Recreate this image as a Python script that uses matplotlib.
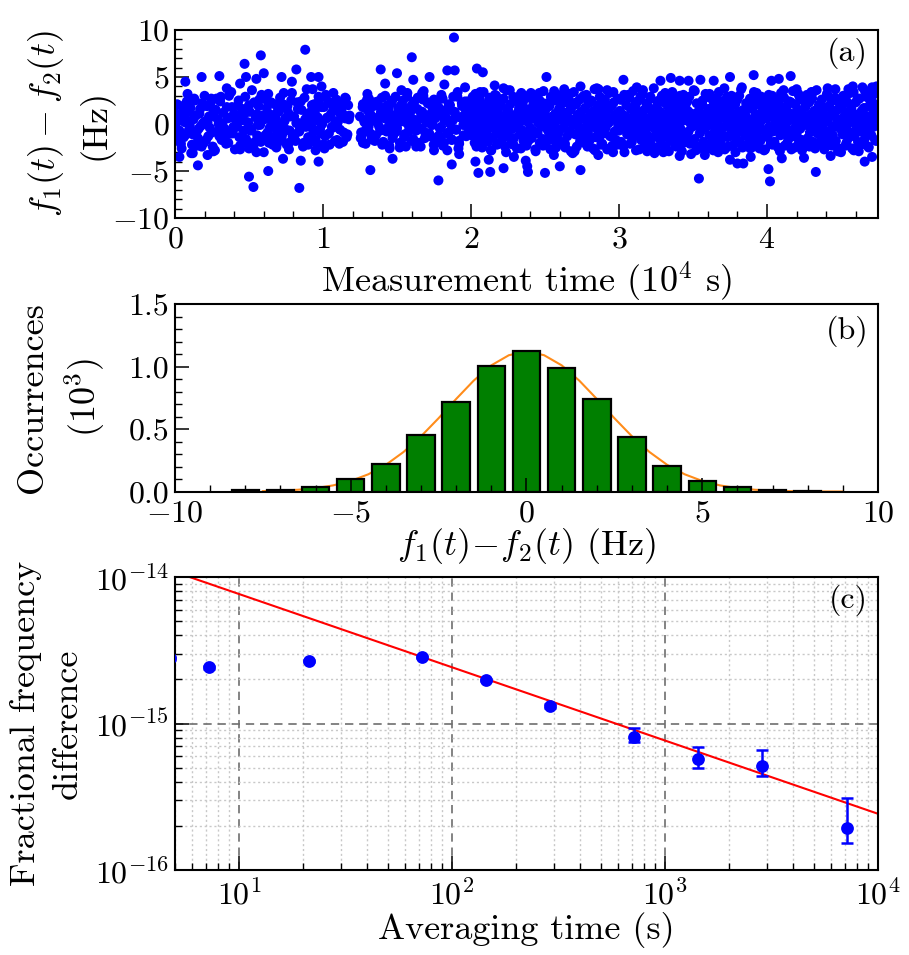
import numpy as np
import matplotlib
matplotlib.use('Agg')
import matplotlib.pyplot as plt
from matplotlib.ticker import MultipleLocator, LogLocator, NullFormatter, FormatStrFormatter

plt.rcParams['font.family'] = 'serif'
plt.rcParams['font.serif'] = ['cmr10']
plt.rcParams['mathtext.fontset'] = 'cm'
plt.rcParams['axes.formatter.use_mathtext'] = True

# ---- panel (a): f1(t) - f2(t) versus measurement time (1e4 s) ----
t_a = [0.00, 0.01, 0.02, 0.04, 0.05, 0.06, 0.07, 0.08, 0.10, 0.11,
       0.12, 0.13, 0.14, 0.16, 0.17, 0.18, 0.19, 0.20, 0.21, 0.23,
       0.24, 0.25, 0.26, 0.27, 0.29, 0.30, 0.31, 0.32, 0.33, 0.35,
       0.36, 0.37, 0.38, 0.39, 0.40, 0.42, 0.43, 0.44, 0.45, 0.46,
       0.48, 0.49, 0.50, 0.51, 0.52, 0.53, 0.55, 0.56, 0.57, 0.58,
       0.59, 0.61, 0.62, 0.63, 0.64, 0.65, 0.66, 0.68, 0.69, 0.70,
       0.71, 0.72, 0.74, 0.75, 0.76, 0.77, 0.78, 0.79, 0.81, 0.82,
       0.83, 0.84, 0.85, 0.87, 0.88, 0.89, 0.90, 0.91, 0.92, 0.94,
       0.95, 0.96, 0.97, 0.98, 0.99, 1.01, 1.02, 1.03, 1.04, 1.05,
       1.06, 1.07, 1.08, 1.09, 1.10, 1.11, 1.12, 1.13, 1.14, 1.15,
       1.16, 1.17, 1.18, 0.03, 0.09, 0.15, 0.22, 0.28, 0.34, 0.41,
       0.47, 0.54, 0.60, 0.67, 0.73, 0.80, 0.86, 0.93, 1.00, 0.015]
df_a = [1.2, -0.8, 0.3, -2.1, 1.9, -1.4, 0.6, 2.4, -0.2, -3.1,
        -1.1, 2.7, 0.9, -0.5, 1.6, -2.4, 0.1, 3.0, -1.7, 0.8,
        2.2, -0.9, 1.4, -2.8, 0.5, -1.3, 2.9, 0.0, -0.6, 1.8,
        -2.0, 0.7, 3.4, -1.0, 1.1, -0.3, 2.5, -2.3, 0.4, 1.5,
        -1.6, 0.2, 2.0, -0.7, 3.6, -2.5, 1.0, -0.1, 2.6, -1.9,
        0.9, -1.2, 1.7, 3.2, -0.4, 2.3, -2.2, 0.6, -0.9, 1.3,
        2.8, -1.5, 0.3, -0.6, 1.9, -2.7, 0.8, 3.3, -1.1, 0.1,
        1.6, -0.8, 2.4, -2.0, 0.5, 3.7, -1.4, 1.2, -0.2, 2.1,
        -1.7, 0.4, 2.9, -0.5, 1.8, -2.6, 3.1, 0.7, -1.0, 2.2,
        -0.3, 1.5, -1.8, 2.6, 0.2, -2.1, 1.0, 2.3, -0.9, 0.6,
        -1.4, 2.0, 0.9, -0.7, 1.3, -2.3, 0.2, 2.7, -1.2, 0.5,
        1.1, -1.9, 0.8, -0.3, 2.1, -1.6, 0.0, 1.6, -2.2, -1.3]

t_a2 = [0.005, 0.015, 0.025, 0.035, 0.045, 0.055, 0.065, 0.075, 0.085, 0.095,
        0.105, 0.115, 0.125, 0.135, 0.145, 0.155, 0.165, 0.175, 0.185, 0.195,
        0.205, 0.215, 0.225, 0.235, 0.245, 0.255, 0.265, 0.275, 0.285, 0.295,
        0.305, 0.315, 0.325, 0.335, 0.345, 0.355, 0.365, 0.375, 0.385, 0.395,
        0.405, 0.415, 0.425, 0.435, 0.445, 0.455, 0.465, 0.475, 0.485, 0.495,
        0.505, 0.515, 0.525, 0.535, 0.545, 0.555, 0.565, 0.575, 0.585, 0.595,
        0.605, 0.615, 0.625, 0.635, 0.645, 0.655, 0.665, 0.675, 0.685, 0.695,
        0.705, 0.715, 0.725, 0.735, 0.745, 0.755, 0.765, 0.775, 0.785, 0.795,
        0.805, 0.815, 0.825, 0.835, 0.845, 0.855, 0.865, 0.875, 0.885, 0.895,
        0.905, 0.915, 0.925, 0.935, 0.945, 0.955, 0.965, 0.975, 0.985, 0.995,
        1.005, 1.015, 1.025, 1.035, 1.045, 1.055, 1.065, 1.075, 1.085, 1.095,
        1.105, 1.115, 1.125, 1.135, 1.145, 1.155, 1.165, 1.175]
df_a2 = [-0.4, 2.1, -1.8, 0.9, -2.6, 1.4, 0.2, -1.1, 3.2, -0.6,
         1.7, -2.2, 0.5, 2.5, -0.9, -1.5, 1.1, -0.2, 2.2, -2.0,
         0.3, 1.9, -1.3, -0.4, 2.7, -2.4, 0.8, 1.5, -0.8, 0.0,
         2.4, -1.7, 1.2, -0.5, -2.1, 0.6, 3.0, -1.0, 1.8, -0.3,
         -2.7, 0.9, 2.0, -1.4, 0.4, 1.6, -0.7, 2.9, -1.9, 0.1,
         1.3, -0.6, -2.3, 2.3, 0.7, -1.2, 1.9, -0.1, 3.1, -1.6,
         0.5, 2.6, -0.9, -2.0, 1.0, 0.2, -1.4, 2.1, -2.5, 1.4,
         -0.2, 1.7, -1.1, 3.3, 0.6, -2.2, 1.2, -0.7, 2.5, -1.3,
         0.8, -1.8, 2.3, 0.1, -0.5, 1.5, -2.4, 2.8, -0.3, 1.0,
         -1.5, 0.4, 2.0, -0.8, 1.3, -2.0, 0.7, 2.6, -1.0, 0.0,
         1.8, -1.3, 0.6, 2.4, -2.2, 1.1, -0.4, 1.6, 0.3, -1.7,
         2.2, -0.6, 1.4, -1.9, 0.9, 2.7, -1.1, 0.5]

t_b = [1.25, 1.26, 1.27, 1.28, 1.29, 1.30, 1.31, 1.32, 1.33, 1.34,
       1.35, 1.36, 1.37, 1.38, 1.39, 1.40, 1.41, 1.42, 1.43, 1.44,
       1.45, 1.46, 1.47, 1.48, 1.49, 1.50, 1.51, 1.52, 1.53, 1.54,
       1.55, 1.56, 1.57, 1.58, 1.59, 1.60, 1.61, 1.62, 1.63, 1.64,
       1.65, 1.66, 1.67, 1.68, 1.69, 1.70, 1.71, 1.72, 1.73, 1.74,
       1.75, 1.76, 1.77, 1.78, 1.79, 1.80, 1.81, 1.82, 1.83, 1.84,
       1.85, 1.86, 1.87, 1.88, 1.89, 1.90, 1.91, 1.92, 1.93, 1.94,
       1.95, 1.96, 1.97, 1.98, 1.99, 1.255, 1.315, 1.375, 1.435, 1.495,
       1.555, 1.615, 1.675, 1.735, 1.795, 1.855, 1.915, 1.975, 1.285, 1.345]
df_b = [0.8, -1.3, 2.1, 0.2, -0.6, 1.5, 2.7, -1.0, 0.4, 1.9,
        -1.8, 0.6, 2.4, -0.3, 1.2, -2.2, 0.9, 3.0, -0.8, 1.6,
        0.1, 2.2, -1.5, 0.7, 2.9, -0.4, 1.4, -2.0, 0.3, 2.5,
        -1.1, 1.0, 3.3, -0.2, 0.6, 2.0, -1.6, 1.7, -0.7, 2.8,
        0.5, -2.4, 1.3, 3.5, -0.9, 0.2, 2.3, -1.3, 1.1, -0.1,
        2.6, -1.9, 0.9, 1.8, -0.5, 3.1, -2.3, 0.4, 1.5, -1.0,
        2.1, 0.0, -1.7, 2.9, 1.2, -0.6, 3.4, -2.1, 0.7, 1.9,
        -1.2, 2.4, 0.3, -0.4, 1.6, -1.5, 1.1, 0.5, 2.0, -0.8,
        1.7, -0.3, 2.6, 0.8, -1.4, 0.2, -2.6, 1.3, 2.2, -1.7]

t_b2 = [1.258, 1.268, 1.278, 1.288, 1.298, 1.308, 1.318, 1.328, 1.338, 1.348,
        1.358, 1.368, 1.378, 1.388, 1.398, 1.408, 1.418, 1.428, 1.438, 1.448,
        1.458, 1.468, 1.478, 1.488, 1.498, 1.508, 1.518, 1.528, 1.538, 1.548,
        1.558, 1.568, 1.578, 1.588, 1.598, 1.608, 1.618, 1.628, 1.638, 1.648,
        1.658, 1.668, 1.678, 1.688, 1.698, 1.708, 1.718, 1.728, 1.738, 1.748,
        1.758, 1.768, 1.778, 1.788, 1.798, 1.808, 1.818, 1.828, 1.838, 1.848,
        1.858, 1.868, 1.878, 1.888, 1.898, 1.908, 1.918, 1.928, 1.938, 1.948,
        1.958, 1.968, 1.978, 1.988, 1.998]
df_b2 = [-0.9, 1.8, 0.4, -2.1, 2.6, -0.3, 1.1, -1.6, 0.7, 2.3,
         -1.2, 0.1, 1.9, -0.7, 2.8, -1.9, 0.6, 1.4, -0.4, -2.3,
         1.0, 2.5, -1.1, 0.3, -0.6, 1.7, -2.5, 2.0, 0.8, -1.4,
         0.2, 2.9, -0.8, 1.2, -1.8, 0.5, 2.4, -0.2, 1.6, -2.0,
         1.3, -0.5, 3.0, -1.5, 0.9, 2.2, -1.0, 0.0, 1.8, -2.2,
         0.6, 2.5, -1.3, 1.1, -0.3, 2.7, -2.0, 0.8, 1.5, -0.9,
         2.0, -1.6, 0.4, 1.3, -0.6, 2.9, -1.8, 0.7, 2.2, -0.1,
         1.0, -1.3, 2.4, 0.2, -0.7]

t_c = [2.000, 2.005, 2.010, 2.015, 2.020, 2.025, 2.030, 2.035, 2.040, 2.045,
       2.050, 2.055, 2.060, 2.065, 2.070, 2.075, 2.080, 2.085, 2.090, 2.095,
       2.100, 2.105, 2.110, 2.115, 2.120, 2.125, 2.130, 2.135, 2.140, 2.145,
       2.150, 2.155, 2.160, 2.165, 2.170, 2.175, 2.180, 2.185, 2.190, 2.195,
       2.200, 2.205, 2.210, 2.215, 2.220, 2.225, 2.230, 2.235, 2.240, 2.245,
       2.250, 2.255, 2.260, 2.265, 2.270, 2.275, 2.280, 2.285, 2.290, 2.295,
       2.300, 2.305, 2.310, 2.315, 2.320, 2.325, 2.330, 2.335, 2.340, 2.345,
       2.350, 2.355, 2.360, 2.365, 2.370, 2.375, 2.380, 2.385, 2.390, 2.395,
       2.400, 2.405, 2.410, 2.415, 2.420, 2.425, 2.430, 2.435, 2.440, 2.445,
       2.450, 2.455, 2.460, 2.465, 2.470, 2.475, 2.480, 2.485, 2.490, 2.495,
       2.500, 2.505, 2.510, 2.515, 2.520, 2.525, 2.530, 2.535, 2.540, 2.545,
       2.550, 2.555, 2.560, 2.565, 2.570, 2.575, 2.580, 2.585, 2.590, 2.595,
       2.600, 2.605, 2.610, 2.615, 2.620, 2.625, 2.630, 2.635, 2.640, 2.645,
       2.650, 2.655, 2.660, 2.665, 2.670, 2.675, 2.680, 2.685, 2.690, 2.695,
       2.700, 2.705, 2.710, 2.715, 2.720, 2.725, 2.730, 2.735, 2.740, 2.745,
       2.750, 2.755, 2.760, 2.765, 2.770, 2.775, 2.780, 2.785, 2.790, 2.795,
       2.800, 2.805, 2.810, 2.815, 2.820, 2.825, 2.830, 2.835, 2.840, 2.845,
       2.850, 2.855, 2.860, 2.865, 2.870, 2.875, 2.880, 2.885, 2.890, 2.895,
       2.900, 2.905, 2.910, 2.915, 2.920, 2.925, 2.930, 2.935, 2.940, 2.945,
       2.950, 2.955, 2.960, 2.965, 2.970, 2.975, 2.980, 2.985, 2.990, 2.995]
df_c = [0.4, -1.2, 2.3, -0.3, 1.1, -2.0, 3.2, 0.7, -0.8, 1.8,
        -1.6, 0.2, 2.6, -0.5, 1.4, -2.5, 0.9, 3.4, -1.1, 0.0,
        2.0, -0.9, 1.2, -1.9, 0.6, 2.8, -0.2, -2.8, 1.6, 0.3,
        -1.4, 2.2, 0.8, -0.6, 3.0, -2.2, 1.3, -0.1, 2.4, -1.0,
        0.5, 1.9, -1.7, 0.1, 2.7, -0.7, -2.4, 1.0, 3.6, -0.4,
        1.5, -1.3, 0.3, 2.1, -2.1, 0.9, -0.5, 2.9, -1.5, 0.6,
        -0.2, 2.5, -2.6, 1.2, 0.0, 1.7, -1.1, 3.1, -0.6, 0.8,
        2.3, -1.8, 0.4, -0.9, 1.6, -2.3, 2.8, 0.2, -1.2, 1.1,
        -0.4, 3.3, -1.5, 0.7, 2.0, -0.8, 1.3, -2.7, 0.5, 2.6,
        -1.0, 0.1, 1.8, -2.0, 2.4, -0.3, 0.9, -1.6, 3.5, 0.3,
        1.4, -2.2, 0.6, 2.2, -0.7, -1.4, 1.9, 0.0, 2.9, -0.9,
        0.8, -1.7, 2.5, -0.2, 1.1, -2.5, 3.0, 0.4, -1.0, 1.6,
        -0.6, 2.0, -1.9, 0.9, 3.2, -0.4, 1.2, -2.1, 0.2, 2.3,
        -1.3, 0.7, 2.7, -0.8, 1.5, -2.9, 0.1, 1.9, -0.1, 3.4,
        0.5, -1.1, 2.1, -2.4, 1.0, 0.3, -0.7, 2.6, -1.6, 1.3,
        2.8, -0.5, 0.6, -2.0, 1.7, -1.2, 3.1, 0.0, -0.9, 2.2,
        -1.8, 1.1, 0.4, 2.4, -0.3, -2.6, 1.4, 3.7, -1.4, 0.8,
        0.2, -0.6, 2.0, -1.5, 2.9, 0.6, -2.2, 1.2, -0.1, 1.8,
        -1.0, 2.6, -0.4, 0.9, -2.7, 1.6, 0.1, 3.3, -1.3, 0.5,
        1.9, -2.3, 0.7, 2.3, -0.8, 1.0, -1.7, 0.3, 2.7, -0.2]

t_d = [3.000, 3.005, 3.010, 3.015, 3.020, 3.025, 3.030, 3.035, 3.040, 3.045,
       3.050, 3.055, 3.060, 3.065, 3.070, 3.075, 3.080, 3.085, 3.090, 3.095,
       3.100, 3.105, 3.110, 3.115, 3.120, 3.125, 3.130, 3.135, 3.140, 3.145,
       3.150, 3.155, 3.160, 3.165, 3.170, 3.175, 3.180, 3.185, 3.190, 3.195,
       3.200, 3.205, 3.210, 3.215, 3.220, 3.225, 3.230, 3.235, 3.240, 3.245,
       3.250, 3.255, 3.260, 3.265, 3.270, 3.275, 3.280, 3.285, 3.290, 3.295,
       3.300, 3.305, 3.310, 3.315, 3.320, 3.325, 3.330, 3.335, 3.340, 3.345,
       3.350, 3.355, 3.360, 3.365, 3.370, 3.375, 3.380, 3.385, 3.390, 3.395,
       3.400, 3.405, 3.410, 3.415, 3.420, 3.425, 3.430, 3.435, 3.440, 3.445,
       3.450, 3.455, 3.460, 3.465, 3.470, 3.475, 3.480, 3.485, 3.490, 3.495,
       3.500, 3.505, 3.510, 3.515, 3.520, 3.525, 3.530, 3.535, 3.540, 3.545,
       3.550, 3.555, 3.560, 3.565, 3.570, 3.575, 3.580, 3.585, 3.590, 3.595,
       3.600, 3.605, 3.610, 3.615, 3.620, 3.625, 3.630, 3.635, 3.640, 3.645,
       3.650, 3.655, 3.660, 3.665, 3.670, 3.675, 3.680, 3.685, 3.690, 3.695,
       3.700, 3.705, 3.710, 3.715, 3.720, 3.725, 3.730, 3.735, 3.740, 3.745,
       3.750, 3.755, 3.760, 3.765, 3.770, 3.775, 3.780, 3.785, 3.790, 3.795,
       3.800, 3.805, 3.810, 3.815, 3.820, 3.825, 3.830, 3.835, 3.840, 3.845,
       3.850, 3.855, 3.860, 3.865, 3.870, 3.875, 3.880, 3.885, 3.890, 3.895,
       3.900, 3.905, 3.910, 3.915, 3.920, 3.925, 3.930, 3.935, 3.940, 3.945,
       3.950, 3.955, 3.960, 3.965, 3.970, 3.975, 3.980, 3.985, 3.990, 3.995]
df_d = [-0.7, 1.4, 2.6, -1.9, 0.3, 1.0, -2.4, 3.1, -0.2, 0.8,
        2.0, -1.1, 0.5, -0.4, 2.8, -2.1, 1.6, 0.1, -1.5, 3.5,
        0.9, -0.6, 1.9, -2.8, 0.4, 2.4, -1.0, 1.2, -0.1, 2.9,
        -1.7, 0.7, 3.2, -0.8, 1.5, -2.3, 0.0, 2.2, -1.2, 0.6,
        1.8, -0.3, -2.0, 2.7, 0.2, 1.1, -1.4, 3.8, -0.5, 0.9,
        -2.5, 1.7, 0.4, -0.9, 2.5, -1.6, 1.3, 0.0, 3.0, -0.4,
        0.6, 2.3, -1.3, 1.0, -2.6, 0.3, 1.9, -0.7, 2.7, -1.8,
        1.2, -0.2, 3.4, -1.1, 0.8, 2.0, -2.2, 0.5, 1.5, -0.6,
        -1.5, 2.6, 0.1, -0.5, 1.7, -2.9, 0.9, 3.1, -1.0, 0.4,
        2.1, -1.3, 0.7, 1.4, -0.8, 2.9, -2.1, 0.0, 1.1, -0.3,
        0.3, 3.6, -1.6, 0.8, -0.1, 2.2, -2.4, 1.3, 0.6, -1.0,
        1.9, -0.7, 0.2, 2.5, -1.9, 1.0, -0.4, 3.2, -2.6, 0.5,
        -0.2, 1.6, -1.2, 2.8, 0.4, -2.0, 1.2, 0.0, 2.3, -0.9,
        1.0, -1.7, 2.0, 0.3, -0.6, 3.4, -2.3, 0.9, 1.7, -1.1,
        -0.4, 2.4, 0.6, -2.7, 1.4, -0.2, 2.9, -1.4, 0.1, 1.8,
        0.8, -1.0, 3.0, -0.5, 1.1, -2.2, 0.4, 2.1, -1.6, 0.0,
        2.6, -0.8, 1.3, -1.9, 0.7, 3.7, -0.3, -2.5, 1.5, 0.2,
        -1.2, 0.9, 2.2, -0.7, 1.8, -2.0, 0.5, 2.7, -0.1, -1.5,
        1.6, 0.0, -2.4, 2.4, -0.9, 1.0, 3.3, -1.3, 0.6, -0.4,
        2.0, -1.8, 0.3, 1.2, -0.6, 2.6, -2.8, 0.8, 1.9, -1.1]

t_e = [4.000, 4.005, 4.010, 4.015, 4.020, 4.025, 4.030, 4.035, 4.040, 4.045,
       4.050, 4.055, 4.060, 4.065, 4.070, 4.075, 4.080, 4.085, 4.090, 4.095,
       4.100, 4.105, 4.110, 4.115, 4.120, 4.125, 4.130, 4.135, 4.140, 4.145,
       4.150, 4.155, 4.160, 4.165, 4.170, 4.175, 4.180, 4.185, 4.190, 4.195,
       4.200, 4.205, 4.210, 4.215, 4.220, 4.225, 4.230, 4.235, 4.240, 4.245,
       4.250, 4.255, 4.260, 4.265, 4.270, 4.275, 4.280, 4.285, 4.290, 4.295,
       4.300, 4.305, 4.310, 4.315, 4.320, 4.325, 4.330, 4.335, 4.340, 4.345,
       4.350, 4.355, 4.360, 4.365, 4.370, 4.375, 4.380, 4.385, 4.390, 4.395,
       4.400, 4.405, 4.410, 4.415, 4.420, 4.425, 4.430, 4.435, 4.440, 4.445,
       4.450, 4.455, 4.460, 4.465, 4.470, 4.475, 4.480, 4.485, 4.490, 4.495,
       4.500, 4.505, 4.510, 4.515, 4.520, 4.525, 4.530, 4.535, 4.540, 4.545,
       4.550, 4.555, 4.560, 4.565, 4.570, 4.575, 4.580, 4.585, 4.590, 4.595,
       4.600, 4.605, 4.610, 4.615, 4.620, 4.625, 4.630, 4.635, 4.640, 4.645,
       4.650, 4.655, 4.660, 4.665, 4.670, 4.675, 4.680, 4.685, 4.690, 4.695,
       4.700, 4.705, 4.710, 4.715, 4.720, 4.725, 4.730, 4.735, 4.740, 4.745]
df_e = [0.6, -1.4, 2.2, -0.3, 1.3, -2.1, 0.9, 3.0, -0.8, 1.7,
        -1.9, 0.2, 2.6, -0.6, 1.0, -2.5, 0.4, 2.0, -1.2, 3.3,
        0.0, 1.5, -1.0, 2.8, -2.3, 0.7, -0.4, 1.9, 0.3, -1.6,
        2.4, -0.7, 1.1, -2.7, 0.5, 3.5, -1.3, 0.8, 2.1, -0.2,
        -1.1, 1.6, 0.1, -2.0, 2.9, -0.5, 1.2, -1.7, 0.6, 2.5,
        0.9, -2.4, 1.8, -0.1, 3.1, -1.5, 0.4, 2.3, -0.9, 1.0,
        -0.6, 2.7, -1.9, 0.2, 1.4, -2.6, 0.7, 3.6, -1.0, 0.5,
        2.0, -0.3, 1.1, -1.4, 2.6, 0.0, -2.2, 1.7, -0.7, 0.8,
        -1.6, 3.2, 0.3, -0.8, 1.9, -2.1, 1.0, 2.4, -0.4, -1.2,
        1.3, -0.2, 2.8, -1.8, 0.6, 1.5, -2.9, 0.1, 2.2, -0.5,
        0.4, 1.8, -1.1, 3.0, -0.6, 0.9, -2.3, 2.5, -0.1, 1.2,
        -1.5, 0.7, 2.1, -0.9, 1.6, -2.6, 0.2, 3.4, -1.3, 0.8,
        2.3, -0.4, 1.0, -1.9, 0.5, 2.7, -0.8, -2.0, 1.4, 3.9,
        -0.2, 1.7, -1.6, 0.9, 2.9, -0.7, 0.3, -2.4, 1.9, 2.6,
        0.1, -1.2, 2.4, 1.1, -0.3, 3.2, -1.7, 0.6, 2.0, 1.5]

# band edges, second half of the run
t_f = [2.012, 2.037, 2.062, 2.087, 2.112, 2.137, 2.162, 2.187, 2.212, 2.237,
       2.262, 2.287, 2.312, 2.337, 2.362, 2.387, 2.412, 2.437, 2.462, 2.487,
       2.512, 2.537, 2.562, 2.587, 2.612, 2.637, 2.662, 2.687, 2.712, 2.737,
       2.762, 2.787, 2.812, 2.837, 2.862, 2.887, 2.912, 2.937, 2.962, 2.987,
       3.012, 3.037, 3.062, 3.087, 3.112, 3.137, 3.162, 3.187, 3.212, 3.237,
       3.262, 3.287, 3.312, 3.337, 3.362, 3.387, 3.412, 3.437, 3.462, 3.487,
       3.512, 3.537, 3.562, 3.587, 3.612, 3.637, 3.662, 3.687, 3.712, 3.737,
       3.762, 3.787, 3.812, 3.837, 3.862, 3.887, 3.912, 3.937, 3.962, 3.987,
       4.012, 4.037, 4.062, 4.087, 4.112, 4.137, 4.162, 4.187, 4.212, 4.237,
       4.262, 4.287, 4.312, 4.337, 4.362, 4.387, 4.412, 4.437, 4.462, 4.487,
       4.512, 4.537, 4.562, 4.587, 4.612, 4.637, 4.662, 4.687, 4.712, 4.737]
df_f = [2.9, -2.4, 3.4, -1.9, 2.2, -2.8, 3.1, -2.1, 2.6, -3.0,
        3.6, -2.2, 2.4, -2.6, 3.0, -1.8, 2.7, -2.9, 3.3, -2.3,
        2.1, -2.7, 3.5, -2.0, 2.8, -2.5, 3.2, -3.1, 2.3, -1.9,
        3.0, -2.4, 2.5, -2.8, 3.7, -2.1, 2.0, -2.6, 3.4, -2.2,
        2.6, -3.0, 3.1, -1.9, 2.3, -2.7, 3.6, -2.3, 2.9, -2.5,
        2.2, -2.1, 3.3, -2.9, 2.7, -2.4, 3.0, -2.0, 2.4, -3.2,
        3.5, -2.6, 2.1, -2.2, 3.2, -2.8, 2.8, -1.9, 3.8, -2.4,
        2.5, -3.0, 3.0, -2.3, 2.2, -2.6, 3.4, -2.1, 2.9, -2.7,
        3.1, -2.2, 2.6, -2.9, 3.6, -2.0, 2.3, -2.5, 3.2, -2.8,
        2.8, -2.4, 3.4, -2.1, 2.0, -2.7, 3.0, -2.3, 3.7, -2.6,
        2.4, -2.0, 3.3, -2.8, 2.7, -2.2, 3.5, -2.5, 3.1, -1.8]

# points lying well away from the central band
wide_points = [
    (0.88, 7.9), (0.58, 7.3), (0.47, 6.4), (0.82, 5.8), (0.18, 5.0), (0.30, 5.1), (0.07, 4.5), (0.48, 5.0),
    (0.55, 4.8), (0.60, 5.4), (0.72, 5.0), (0.79, 4.5), (0.92, 5.0), (0.97, 5.0), (0.99, 4.0), (0.44, 4.3),
    (0.35, 3.8), (0.155, -4.4), (0.03, -3.5), (0.12, -3.1), (0.22, -3.3), (0.26, -2.9), (0.50, -5.6), (0.53, -6.7),
    (0.55, -3.0), (0.60, -3.0), (0.63, -5.0), (0.73, -3.7), (0.84, -6.8), (0.85, -3.9), (0.97, -4.0), (0.95, -2.8),
    (0.90, -2.2), (0.50, -2.6), (0.44, -2.7), (0.69, -2.1), (0.77, -2.0), (1.07, 3.3), (1.15, 2.8), (0.93, 3.7),
    (1.885, 9.2), (1.60, 7.1), (1.39, 5.8), (1.50, 5.4), (1.84, 5.7), (1.89, 5.7), (1.72, 5.0), (1.61, 4.7),
    (1.42, 4.3), (1.67, 3.3), (1.32, -4.9), (1.78, -6.0), (1.47, -3.7), (1.27, -2.0), (1.56, -2.4), (1.63, -2.4),
    (1.75, -2.8), (1.84, -2.8), (1.87, -4.3), (1.30, 3.2), (1.53, 3.6), (1.82, 4.2), (1.96, 3.9), (1.45, -2.6),
    (1.92, -3.2), (2.04, 5.9), (2.08, 5.5), (2.22, 3.8), (2.03, -4.0), (2.05, -5.2), (2.13, -5.1), (2.12, -3.8),
    (2.22, -4.7), (2.29, -3.5), (2.38, -4.5), (2.385, -5.1), (2.50, -5.2), (2.60, -4.5), (2.74, -4.9), (2.86, -3.3),
    (2.37, -3.9), (2.56, -3.3), (2.70, -2.9), (2.51, 5.0), (2.34, 3.3), (2.74, 4.0), (2.85, 3.8), (2.92, 3.6),
    (2.16, 4.1), (2.63, 3.7), (2.96, -3.0), (3.03, 4.7), (3.28, 4.6), (3.35, 4.9), (3.41, 4.6), (3.47, 4.6),
    (3.55, 4.7), (3.64, 4.6), (3.75, 5.0), (3.91, 5.2), (3.19, -2.9), (3.24, -3.1), (3.41, -3.4), (3.52, -2.8),
    (3.54, -5.8), (3.67, -3.0), (3.75, -3.8), (3.80, -4.2), (3.84, -4.2), (3.89, -3.5), (3.95, -2.6), (3.12, 3.9),
    (3.83, 3.9), (3.58, -3.3), (3.30, -3.0), (4.01, -4.8), (4.02, -6.1), (4.03, 4.6), (4.08, 4.8), (4.10, -3.65),
    (4.16, 5.1), (4.20, 3.7), (4.25, -3.6), (4.33, -5.1), (4.41, 3.8), (4.43, -3.4), (4.55, 3.7), (4.58, 4.0),
    (4.62, -2.9), (4.66, -4.0), (4.71, -3.5), (4.71, 3.9), (4.74, 4.0), (4.30, 3.4), (4.50, -3.0)]

# ---- panel (b): histogram (1e3 counts) and gaussian fit ----
bin_centers = [-8, -7, -6, -5, -4, -3, -2, -1, 0, 1, 2, 3, 4, 5, 6, 7, 8]
counts = [0.010, 0.010, 0.037, 0.101, 0.222, 0.454, 0.718, 1.003, 1.124,
          0.990, 0.742, 0.438, 0.206, 0.083, 0.037, 0.016, 0.008]
fit_x = [-7.5, -7.0, -6.5, -6.0, -5.5, -5.0, -4.5, -4.0, -3.5, -3.0, -2.5, -2.0,
         -1.5, -1.0, -0.5, 0.0, 0.5, 1.0, 1.5, 2.0, 2.5, 3.0, 3.5, 4.0, 4.5,
         5.0, 5.5, 6.0, 6.5, 7.0, 7.5, 8.0, 8.5, 9.0]
fit_y = [0.0034, 0.0071, 0.0143, 0.0272, 0.0492, 0.0847, 0.138, 0.214, 0.316,
         0.442, 0.587, 0.741, 0.888, 1.010, 1.091, 1.120, 1.091, 1.010, 0.888,
         0.741, 0.587, 0.442, 0.316, 0.214, 0.138, 0.0847, 0.0492, 0.0272,
         0.0143, 0.0071, 0.0034, 0.0015, 0.0006, 0.0003]

# ---- panel (c): fractional frequency difference vs averaging time ----
tau = [4.75, 7.2, 21.4, 72, 144, 288, 716, 1432, 2860, 7160]
adev = [2.78e-15, 2.42e-15, 2.66e-15, 2.85e-15, 1.98e-15, 1.31e-15, 8.06e-16, 5.68e-16, 5.11e-16, 1.93e-16]
adev_low = [2.72e-15, 2.37e-15, 2.61e-15, 2.79e-15, 1.94e-15, 1.27e-15, 7.45e-16, 5.00e-16, 4.37e-16, 1.52e-16]
adev_high = [2.84e-15, 2.47e-15, 2.71e-15, 2.91e-15, 2.02e-15, 1.35e-15, 9.25e-16, 6.90e-16, 6.57e-16, 3.08e-16]
fit_tau = [5, 1e4]
fit_adev = [1.082e-14, 2.42e-16]

LABEL_SIZE = 26
TICK_SIZE = 23


def style_axes(ax):
    ax.tick_params(which='both', direction='in', top=False, right=False, labelsize=TICK_SIZE)
    ax.tick_params(which='major', length=10, width=1.1)
    ax.tick_params(which='minor', length=5, width=1.0)
    ax.tick_params(axis='x', pad=6)
    ax.tick_params(axis='y', pad=4)
    for sp in ax.spines.values():
        sp.set_linewidth(1.5)


def main():
    fig = plt.figure(figsize=(9.09, 9.55), dpi=100)
    ax1 = fig.add_axes([0.1925, 0.7717, 0.7734, 0.1969])
    ax2 = fig.add_axes([0.1925, 0.4853, 0.7734, 0.1963])
    ax3 = fig.add_axes([0.1925, 0.0890, 0.7734, 0.3068])

    # (a)
    t_all, df_all = [], []
    for tt, dd in ((t_a, df_a), (t_a2, df_a2), (t_b, df_b), (t_b2, df_b2),
                   (t_c, df_c), (t_d, df_d), (t_e, df_e), (t_f, df_f)):
        n = min(len(tt), len(dd))
        t_all += tt[:n]
        df_all += dd[:n]
    t_all += [p[0] for p in wide_points]
    df_all += [p[1] for p in wide_points]
    ax1.scatter(t_all, df_all, s=52, color='#0000ff', edgecolors='none', zorder=2)
    ax1.set_xlim(0, 4.75)
    ax1.set_ylim(-10, 10)
    ax1.xaxis.set_major_locator(MultipleLocator(1))
    ax1.xaxis.set_minor_locator(MultipleLocator(0.2))
    ax1.yaxis.set_major_locator(MultipleLocator(5))
    ax1.yaxis.set_minor_locator(MultipleLocator(1))
    style_axes(ax1)
    ax1.set_xlabel(r'Measurement time ($10^4$ s)', fontsize=LABEL_SIZE)
    ax1.set_ylabel('$f_1(t) - f_2(t)$\n(Hz)', fontsize=LABEL_SIZE, linespacing=1.4)
    ax1.xaxis.set_label_coords(0.5, -0.225)
    ax1.yaxis.set_label_coords(-0.088, 0.5)
    ax1.text(0.986, 0.96, '(a)', transform=ax1.transAxes, ha='right', va='top', fontsize=TICK_SIZE)

    # (b)
    ax2.set_axisbelow(False)
    ax2.plot(fit_x, fit_y, color='#ff8c1a', lw=1.5, zorder=1.5)
    ax2.bar(bin_centers, counts, width=0.78, color='#007f00', edgecolor='black', linewidth=1.6, zorder=2)
    ax2.set_xlim(-10, 10)
    ax2.set_ylim(0, 1.5)
    ax2.xaxis.set_major_locator(MultipleLocator(5))
    ax2.xaxis.set_minor_locator(MultipleLocator(1))
    ax2.yaxis.set_major_locator(MultipleLocator(0.5))
    ax2.yaxis.set_minor_locator(MultipleLocator(0.1))
    ax2.yaxis.set_major_formatter(FormatStrFormatter('%.1f'))
    style_axes(ax2)
    ax2.set_xlabel(r'$f_1(t)\!-\!f_2(t)$ (Hz)', fontsize=LABEL_SIZE)
    ax2.set_ylabel('Occurrences\n($10^3$)', fontsize=LABEL_SIZE, linespacing=1.4)
    ax2.xaxis.set_label_coords(0.5, -0.185)
    ax2.yaxis.set_label_coords(-0.097, 0.5)
    ax2.text(0.986, 0.94, '(b)', transform=ax2.transAxes, ha='right', va='top', fontsize=TICK_SIZE)

    # (c)
    ax3.set_xscale('log')
    ax3.set_yscale('log')
    ax3.set_xlim(5, 1e4)
    ax3.set_ylim(1e-16, 1e-14)
    ax3.set_axisbelow(True)
    ax3.xaxis.set_major_locator(LogLocator(base=10, numticks=10))
    ax3.xaxis.set_minor_locator(LogLocator(base=10, subs=np.arange(2, 10), numticks=20))
    ax3.yaxis.set_major_locator(LogLocator(base=10, numticks=10))
    ax3.yaxis.set_minor_locator(LogLocator(base=10, subs=np.arange(2, 10), numticks=20))
    ax3.xaxis.set_minor_formatter(NullFormatter())
    ax3.yaxis.set_minor_formatter(NullFormatter())
    ax3.grid(which='minor', ls=(0, (1.5, 2.0)), color='#c8c8c8', lw=1.0)
    ax3.grid(which='major', ls=(0, (5, 3.5)), color='#6e6e6e', lw=1.2)
    ax3.plot(fit_tau, fit_adev, color='#ff0000', lw=1.5, zorder=2)
    adev_arr = np.array(adev)
    yerr = [adev_arr - np.array(adev_low), np.array(adev_high) - adev_arr]
    ax3.errorbar(tau, adev, yerr=yerr, fmt='none', ecolor='#0000ff',
                 elinewidth=1.8, capsize=4.5, capthick=1.8, zorder=3)
    ax3.plot(tau, adev, 'o', color='#0000ff', ms=9.2, mew=0, zorder=4)
    style_axes(ax3)
    ax3.set_xlabel('Averaging time (s)', fontsize=LABEL_SIZE)
    ax3.set_ylabel('Fractional frequency\ndifference', fontsize=LABEL_SIZE, linespacing=1.4)
    ax3.xaxis.set_label_coords(0.5, -0.145)
    ax3.yaxis.set_label_coords(-0.13, 0.5)
    ax3.text(0.986, 0.973, '(c)', transform=ax3.transAxes, ha='right', va='top', fontsize=TICK_SIZE)

    fig.savefig('out.png', dpi=100)


if __name__ == '__main__':
    main()
